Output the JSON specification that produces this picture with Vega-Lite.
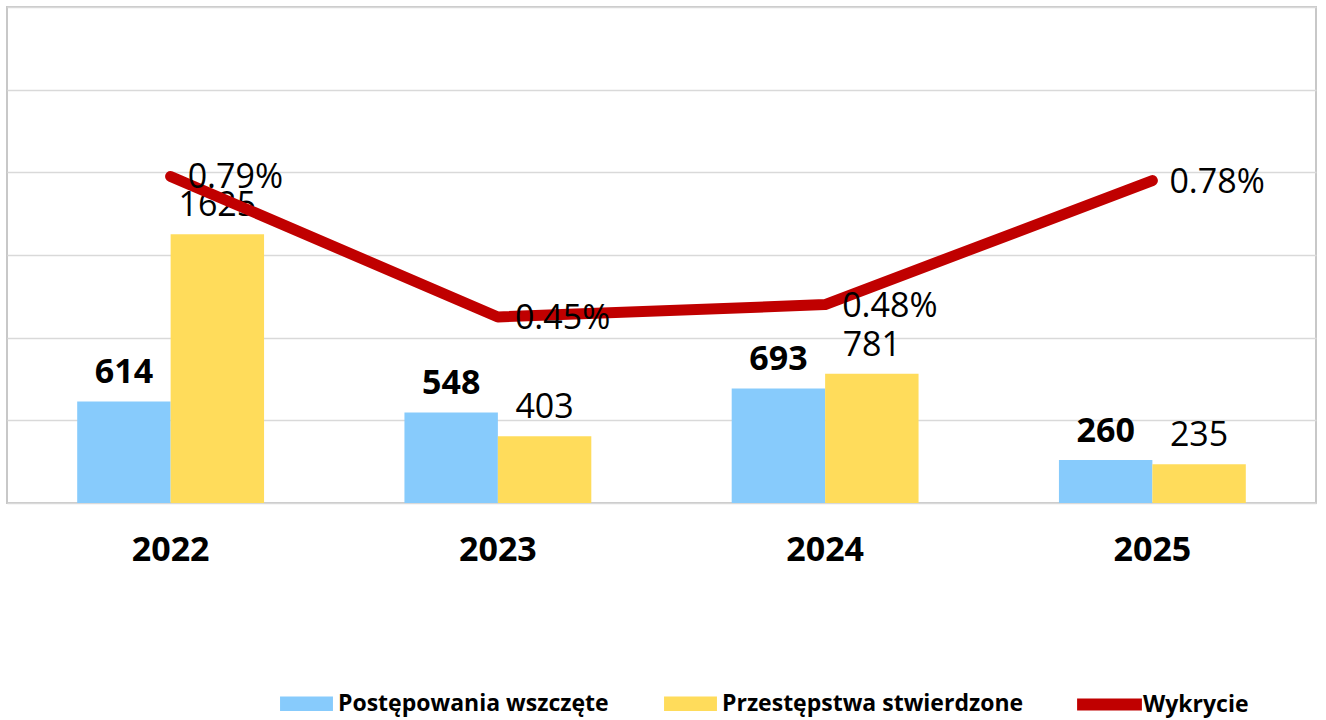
{
  "$schema": "https://vega.github.io/schema/vega-lite/v6.json",
  "width": 1309,
  "height": 496,
  "padding": {"left": 7, "top": 7, "right": 10, "bottom": 0},
  "background": "white",
  "config": {
    "font": "Open Sans",
    "view": {"stroke": "#c8c8c8", "strokeWidth": 2}
  },
  "datasets": {
    "bars": [
      {"year": "2022", "series": "Postępowania wszczęte", "value": 614},
      {"year": "2022", "series": "Przestępstwa stwierdzone", "value": 1625},
      {"year": "2023", "series": "Postępowania wszczęte", "value": 548},
      {"year": "2023", "series": "Przestępstwa stwierdzone", "value": 403},
      {"year": "2024", "series": "Postępowania wszczęte", "value": 693},
      {"year": "2024", "series": "Przestępstwa stwierdzone", "value": 781},
      {"year": "2025", "series": "Postępowania wszczęte", "value": 260},
      {"year": "2025", "series": "Przestępstwa stwierdzone", "value": 235}
    ],
    "rate": [
      {"year": "2022", "series": "Wykrycie", "pct": 0.79, "label": "0.79%"},
      {"year": "2023", "series": "Wykrycie", "pct": 0.45, "label": "0.45%"},
      {"year": "2024", "series": "Wykrycie", "pct": 0.48, "label": "0.48%"},
      {"year": "2025", "series": "Wykrycie", "pct": 0.78, "label": "0.78%"}
    ]
  },
  "encoding": {
    "x": {
      "field": "year",
      "type": "nominal",
      "scale": {"paddingInner": 0.429, "paddingOuter": 0.2145},
      "axis": {
        "title": null,
        "labelAngle": 0,
        "labelFont": "Open Sans",
        "labelFontSize": 34,
        "labelFontWeight": "bold",
        "labelColor": "#000000",
        "labelPadding": 30,
        "ticks": false,
        "domain": false,
        "grid": false
      }
    }
  },
  "layer": [
    {
      "layer": [
        {
          "data": {"name": "bars"},
          "mark": {"type": "bar"},
          "encoding": {
            "xOffset": {"field": "series", "type": "nominal", "scale": {"paddingInner": 0, "paddingOuter": 0}},
            "y": {
              "field": "value",
              "type": "quantitative",
              "scale": {"domain": [0, 3000]},
              "axis": {
                "title": null,
                "values": [0, 500, 1000, 1500, 2000, 2500, 3000],
                "labels": false,
                "ticks": false,
                "domain": false,
                "grid": true,
                "gridColor": "#d9d9d9",
                "gridWidth": 1.5
              }
            },
            "color": {
              "field": "series",
              "type": "nominal",
              "scale": {
                "domain": ["Postępowania wszczęte", "Przestępstwa stwierdzone"],
                "range": ["#87CBFC", "#FFDC5B"]
              },
              "legend": {
                "title": null,
                "orient": "none",
                "legendX": 273,
                "legendY": 670,
                "direction": "horizontal",
                "padding": 0,
                "symbolType": "M-1,-0.27H1V0.27H-1Z",
                "symbolSize": 2800,
                "symbolStrokeWidth": 0,
                "labelFont": "Open Sans",
                "labelFontSize": 23,
                "labelFontWeight": "bold",
                "labelColor": "#000000",
                "labelOffset": 5,
                "columnPadding": 55,
                "labelLimit": 400
              }
            }
          }
        },
        {
          "data": {"name": "bars"},
          "transform": [{"filter": "datum.series === 'Postępowania wszczęte'"}],
          "mark": {"type": "text", "font": "Open Sans", "fontSize": 34, "fontWeight": "bold", "color": "#000000", "baseline": "alphabetic", "dy": -18},
          "encoding": {
            "xOffset": {"field": "series", "type": "nominal", "scale": {"domain": ["Postępowania wszczęte", "Przestępstwa stwierdzone"]}},
            "y": {"field": "value", "type": "quantitative"},
            "text": {"field": "value", "type": "quantitative"}
          }
        },
        {
          "data": {"name": "bars"},
          "transform": [{"filter": "datum.series === 'Przestępstwa stwierdzone'"}],
          "mark": {"type": "text", "font": "Open Sans", "fontSize": 34, "fontWeight": "normal", "color": "#000000", "baseline": "alphabetic", "dy": -18},
          "encoding": {
            "xOffset": {"field": "series", "type": "nominal", "scale": {"domain": ["Postępowania wszczęte", "Przestępstwa stwierdzone"]}},
            "y": {"field": "value", "type": "quantitative"},
            "text": {"field": "value", "type": "quantitative"}
          }
        }
      ]
    },
    {
      "data": {"name": "rate"},
      "layer": [
        {
          "mark": {"type": "line", "strokeWidth": 11, "strokeCap": "round", "strokeJoin": "round"},
          "encoding": {
            "y": {"field": "pct", "type": "quantitative", "scale": {"domain": [0, 1.2]}, "axis": null},
            "stroke": {
              "field": "series",
              "type": "nominal",
              "scale": {"domain": ["Wykrycie"], "range": ["#C00000"]},
              "legend": {
                "title": null,
                "orient": "none",
                "legendX": 1064,
                "legendY": 659,
                "padding": 0,
                "symbolType": "stroke",
                "symbolSize": 4200,
                "symbolStrokeWidth": 12,
                "labelFont": "Open Sans",
                "labelFontSize": 23,
                "labelFontWeight": "bold",
                "labelColor": "#000000",
                "labelOffset": -5
              }
            }
          }
        },
        {
          "mark": {"type": "text", "font": "Open Sans", "fontSize": 34, "color": "#000000", "align": "left", "baseline": "middle", "dx": 17, "dy": 2},
          "encoding": {
            "y": {"field": "pct", "type": "quantitative", "scale": {"domain": [0, 1.2]}, "axis": null},
            "text": {"field": "label"}
          }
        }
      ]
    }
  ],
  "resolve": {"scale": {"y": "independent"}}
}
